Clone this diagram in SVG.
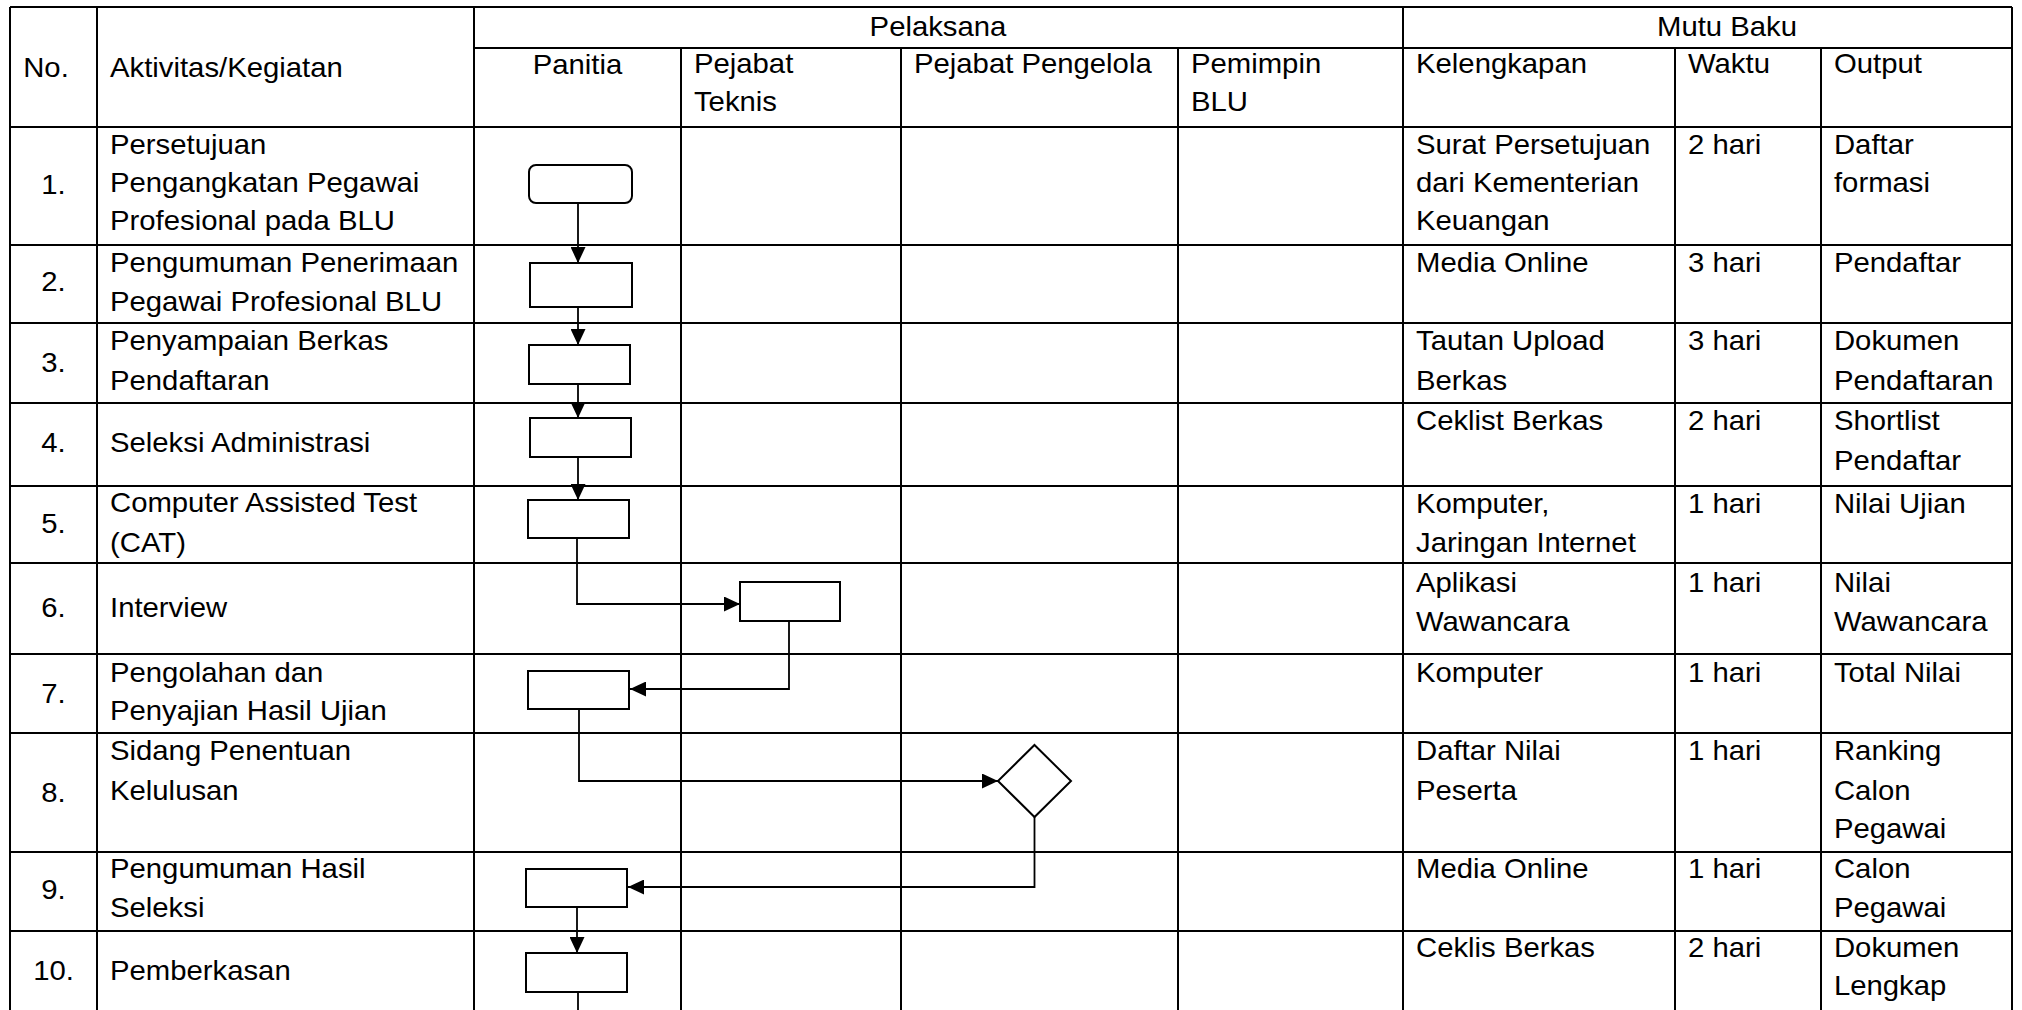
<svg xmlns="http://www.w3.org/2000/svg" width="2022" height="1010" viewBox="0 0 2022 1010">
<style>
.grid line{stroke:#000;stroke-width:2;}
.box{fill:#fff;stroke:#000;stroke-width:2;}
.conn path{fill:none;stroke:#000;stroke-width:1.8;}
text{font-family:"Liberation Sans",Arial,sans-serif;font-size:27px;fill:#000;}
.c{text-anchor:middle;}
</style>
<defs>
<marker id="arr" markerUnits="userSpaceOnUse" markerWidth="16" markerHeight="15" refX="16" refY="7.5" orient="auto">
<path d="M0,0 L16,7.5 L0,15 z" fill="#000"/>
</marker>
</defs>
<rect width="2022" height="1010" fill="#fff"/>
<g id="table" class="grid">
<line x1="10" y1="7" x2="2012" y2="7"/>
<line x1="10" y1="7" x2="10" y2="1010"/>
<line x1="2012" y1="7" x2="2012" y2="1010"/>
<line x1="97" y1="7" x2="97" y2="1010"/>
<line x1="474" y1="7" x2="474" y2="1010"/>
<line x1="1403" y1="7" x2="1403" y2="1010"/>
<line x1="681" y1="48" x2="681" y2="1010"/>
<line x1="901" y1="48" x2="901" y2="1010"/>
<line x1="1178" y1="48" x2="1178" y2="1010"/>
<line x1="1675" y1="48" x2="1675" y2="1010"/>
<line x1="1821" y1="48" x2="1821" y2="1010"/>
<line x1="474" y1="48" x2="2012" y2="48"/>
<line x1="10" y1="127" x2="2012" y2="127"/>
<line x1="10" y1="245" x2="2012" y2="245"/>
<line x1="10" y1="323" x2="2012" y2="323"/>
<line x1="10" y1="403" x2="2012" y2="403"/>
<line x1="10" y1="486" x2="2012" y2="486"/>
<line x1="10" y1="563" x2="2012" y2="563"/>
<line x1="10" y1="654" x2="2012" y2="654"/>
<line x1="10" y1="733" x2="2012" y2="733"/>
<line x1="10" y1="852" x2="2012" y2="852"/>
<line x1="10" y1="931" x2="2012" y2="931"/>
</g>
<g id="connectors" class="conn">
<path d="M578,203 V263" marker-end="url(#arr)"/>
<path d="M578,307 V345" marker-end="url(#arr)"/>
<path d="M578,384 V418" marker-end="url(#arr)"/>
<path d="M578,457 V500" marker-end="url(#arr)"/>
<path d="M577,538 V604 H740" marker-end="url(#arr)"/>
<path d="M789,621 V689 H630" marker-end="url(#arr)"/>
<path d="M579,709 V781 H998" marker-end="url(#arr)"/>
<path d="M1034.5,817 V887 H628" marker-end="url(#arr)"/>
<path d="M577,907 V953" marker-end="url(#arr)"/>
<path d="M578,992 V1012"/>
</g>
<g id="n1"><rect class="box" x="529" y="165" width="103" height="38" rx="7"/></g>
<g id="n2"><rect class="box" x="530" y="263" width="102" height="44"/></g>
<g id="n3"><rect class="box" x="529" y="345" width="101" height="39"/></g>
<g id="n4"><rect class="box" x="530" y="418" width="101" height="39"/></g>
<g id="n5"><rect class="box" x="528" y="500" width="101" height="38"/></g>
<g id="n6"><rect class="box" x="740" y="582" width="100" height="39"/></g>
<g id="n7"><rect class="box" x="528" y="671" width="101" height="38"/></g>
<g id="n8"><polygon class="box" points="1034.5,745 1071,781 1034.5,817 998,781"/></g>
<g id="n9"><rect class="box" x="526" y="869" width="101" height="38"/></g>
<g id="n10"><rect class="box" x="526" y="953" width="101" height="39"/></g>
<g id="texts" transform="scale(1.085,1)">
<text class="c" x="864.5" y="36">Pelaksana</text>
<text class="c" x="1591.7" y="36">Mutu Baku</text>
<text class="c" x="42.4" y="77">No.</text>
<text x="101.4" y="77">Aktivitas/Kegiatan</text>
<text class="c" x="532.3" y="74">Panitia</text>
<text x="639.6" y="73">Pejabat</text>
<text x="639.6" y="111">Teknis</text>
<text x="842.4" y="73">Pejabat Pengelola</text>
<text x="1097.7" y="73">Pemimpin</text>
<text x="1097.7" y="111">BLU</text>
<text x="1305.1" y="73">Kelengkapan</text>
<text x="1555.8" y="73">Waktu</text>
<text x="1690.3" y="73">Output</text>

<text class="c" x="49.3" y="194">1.</text>
<text class="c" x="49.3" y="291">2.</text>
<text class="c" x="49.3" y="372">3.</text>
<text class="c" x="49.3" y="452">4.</text>
<text class="c" x="49.3" y="533">5.</text>
<text class="c" x="49.3" y="617">6.</text>
<text class="c" x="49.3" y="703">7.</text>
<text class="c" x="49.3" y="802">8.</text>
<text class="c" x="49.3" y="899">9.</text>
<text class="c" x="49.3" y="980">10.</text>

<text x="101.4" y="154">Persetujuan</text>
<text x="101.4" y="192">Pengangkatan Pegawai</text>
<text x="101.4" y="230">Profesional pada BLU</text>
<text x="101.4" y="272">Pengumuman Penerimaan</text>
<text x="101.4" y="311">Pegawai Profesional BLU</text>
<text x="101.4" y="350">Penyampaian Berkas</text>
<text x="101.4" y="390">Pendaftaran</text>
<text x="101.4" y="452">Seleksi Administrasi</text>
<text x="101.4" y="512">Computer Assisted Test</text>
<text x="101.4" y="552">(CAT)</text>
<text x="101.4" y="617">Interview</text>
<text x="101.4" y="682">Pengolahan dan</text>
<text x="101.4" y="720">Penyajian Hasil Ujian</text>
<text x="101.4" y="760">Sidang Penentuan</text>
<text x="101.4" y="800">Kelulusan</text>
<text x="101.4" y="878">Pengumuman Hasil</text>
<text x="101.4" y="917">Seleksi</text>
<text x="101.4" y="980">Pemberkasan</text>

<text x="1305.1" y="154">Surat Persetujuan</text>
<text x="1305.1" y="192">dari Kementerian</text>
<text x="1305.1" y="230">Keuangan</text>
<text x="1305.1" y="272">Media Online</text>
<text x="1305.1" y="350">Tautan Upload</text>
<text x="1305.1" y="390">Berkas</text>
<text x="1305.1" y="430">Ceklist Berkas</text>
<text x="1305.1" y="513">Komputer,</text>
<text x="1305.1" y="552">Jaringan Internet</text>
<text x="1305.1" y="592">Aplikasi</text>
<text x="1305.1" y="631">Wawancara</text>
<text x="1305.1" y="682">Komputer</text>
<text x="1305.1" y="760">Daftar Nilai</text>
<text x="1305.1" y="800">Peserta</text>
<text x="1305.1" y="878">Media Online</text>
<text x="1305.1" y="957">Ceklis Berkas</text>

<text x="1555.8" y="154">2 hari</text>
<text x="1555.8" y="272">3 hari</text>
<text x="1555.8" y="350">3 hari</text>
<text x="1555.8" y="430">2 hari</text>
<text x="1555.8" y="513">1 hari</text>
<text x="1555.8" y="592">1 hari</text>
<text x="1555.8" y="682">1 hari</text>
<text x="1555.8" y="760">1 hari</text>
<text x="1555.8" y="878">1 hari</text>
<text x="1555.8" y="957">2 hari</text>

<text x="1690.3" y="154">Daftar</text>
<text x="1690.3" y="192">formasi</text>
<text x="1690.3" y="272">Pendaftar</text>
<text x="1690.3" y="350">Dokumen</text>
<text x="1690.3" y="390">Pendaftaran</text>
<text x="1690.3" y="430">Shortlist</text>
<text x="1690.3" y="470">Pendaftar</text>
<text x="1690.3" y="513">Nilai Ujian</text>
<text x="1690.3" y="592">Nilai</text>
<text x="1690.3" y="631">Wawancara</text>
<text x="1690.3" y="682">Total Nilai</text>
<text x="1690.3" y="760">Ranking</text>
<text x="1690.3" y="800">Calon</text>
<text x="1690.3" y="838">Pegawai</text>
<text x="1690.3" y="878">Calon</text>
<text x="1690.3" y="917">Pegawai</text>
<text x="1690.3" y="957">Dokumen</text>
<text x="1690.3" y="995">Lengkap</text>
</g>
</svg>
